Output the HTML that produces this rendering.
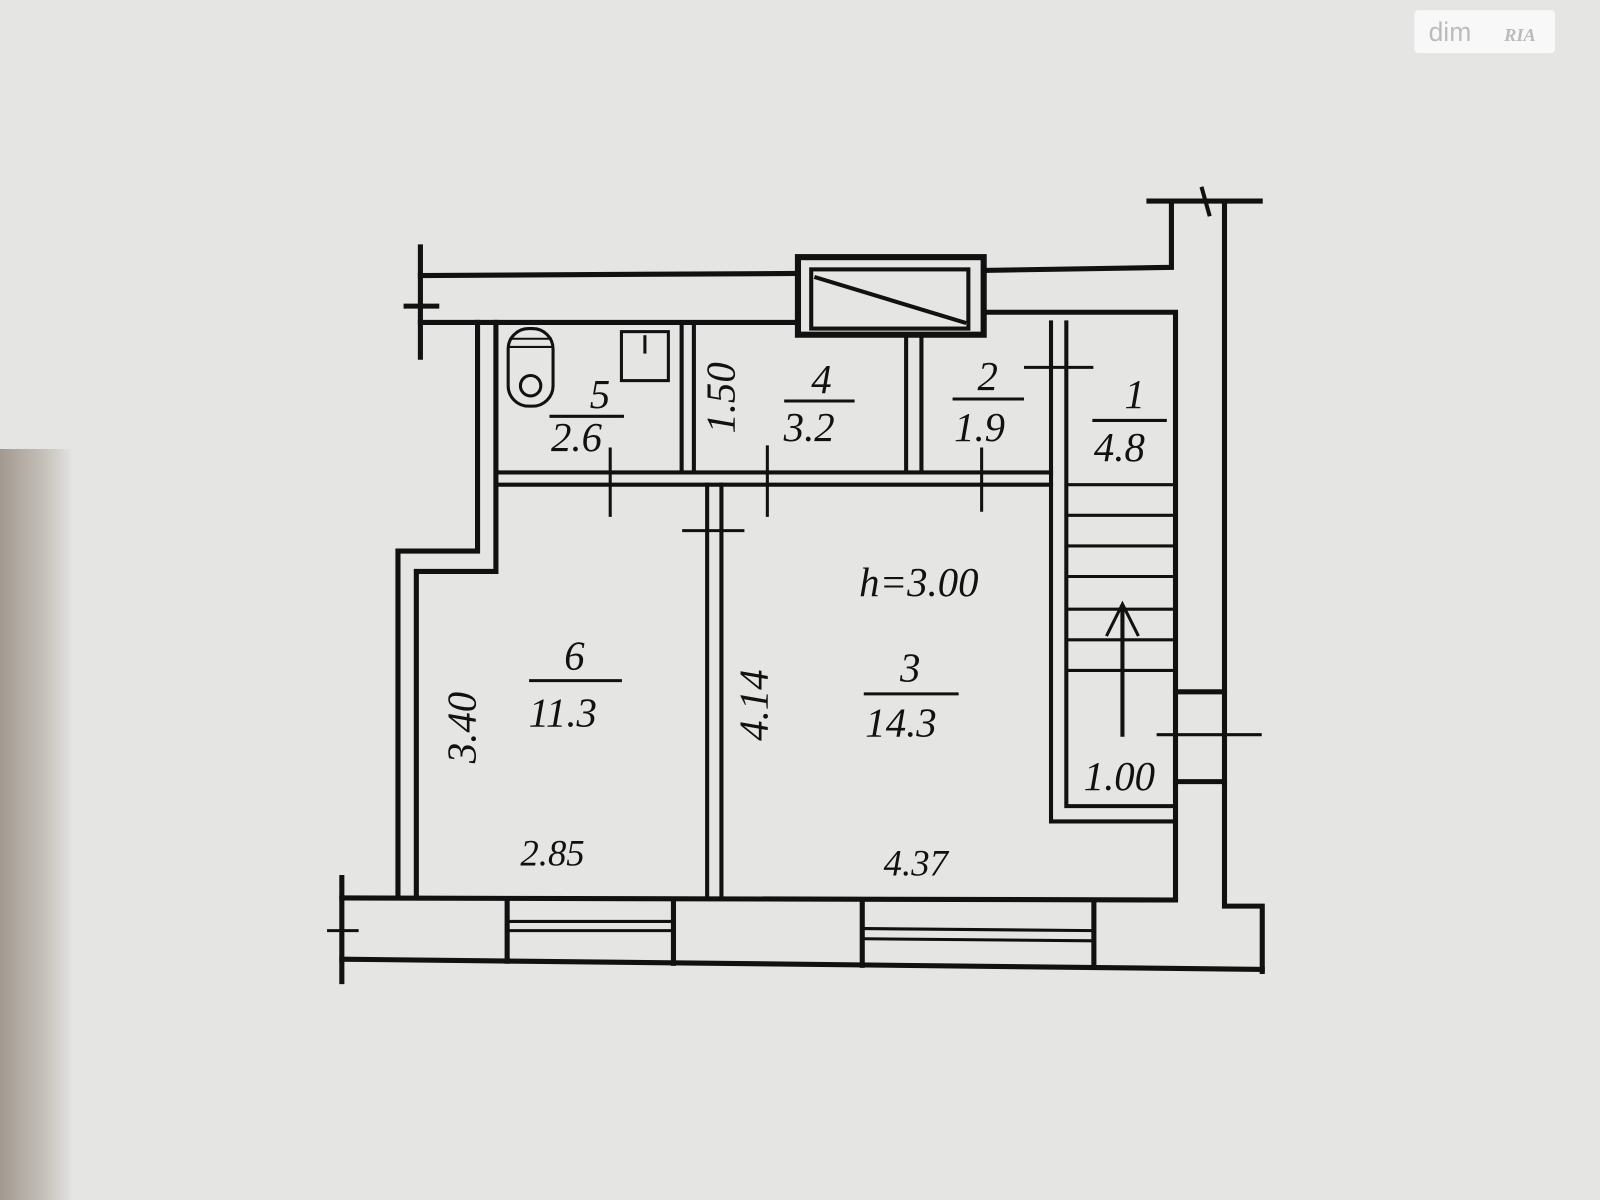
<!DOCTYPE html>
<html><head><meta charset="utf-8"><style>
html,body{margin:0;padding:0;background:#e4e4e2;}
svg{display:block}
text{font-family:"Liberation Serif",serif;font-style:italic;fill:#111;}
</style></head><body>
<svg width="1600" height="1200" viewBox="0 0 1568 1176" preserveAspectRatio="none" xmlns="http://www.w3.org/2000/svg">
<defs><linearGradient id="sh" x1="0" x2="1"><stop offset="0" stop-color="#a29a90"/><stop offset="0.6" stop-color="#c4bfb8"/><stop offset="1" stop-color="#e2e2e0"/></linearGradient></defs>
<rect width="1568" height="1176" fill="#e5e5e3"/>
<rect x="0" y="440" width="70" height="736" fill="url(#sh)"/>
<g stroke="#111" stroke-width="5" fill="none" stroke-linecap="square">
<!-- top wall -->
<line x1="412" y1="242" x2="412" y2="350"/>
<line x1="398" y1="300" x2="428" y2="300"/>
<polyline points="412,270 782,268"/>
<polyline points="412,316 782,316"/>
<rect x="782" y="252" width="182" height="76" stroke-width="6"/>
<rect x="795" y="264" width="154" height="58" stroke-width="4"/>
<line x1="800" y1="272" x2="945" y2="316" stroke-width="4"/>
<polyline points="964,265 1148,262 1148,197"/>
<line x1="1126" y1="197" x2="1235" y2="197"/>
<line x1="1178" y1="185" x2="1185" y2="210" stroke-width="4"/>
<polyline points="964,306 1152,306 1152,880"/>
<polyline points="1200,197 1200,888 1237,888 1237,952"/>
<!-- box on right wall -->
<line x1="1152" y1="678" x2="1200" y2="678"/>
<line x1="1152" y1="766" x2="1200" y2="766"/>
<line x1="1135" y1="720" x2="1235" y2="720" stroke-width="3"/>
<!-- left walls -->
<polyline points="468,316 468,540 390,540 390,880"/>
<polyline points="486,316 486,560 408,560 408,880"/>
<!-- horizontal partition -->
<line x1="486" y1="463" x2="1030" y2="463" stroke-width="4"/>
<line x1="486" y1="475" x2="1030" y2="475" stroke-width="4"/>
<line x1="598" y1="440" x2="598" y2="505" stroke-width="3"/>
<line x1="752" y1="438" x2="752" y2="505" stroke-width="3"/>
<line x1="962" y1="440" x2="962" y2="500" stroke-width="3"/>
<!-- vertical partition -->
<line x1="693" y1="475" x2="693" y2="880" stroke-width="4"/>
<line x1="707" y1="475" x2="707" y2="880" stroke-width="4"/>
<line x1="670" y1="520" x2="728" y2="520" stroke-width="3"/>
<!-- small partitions -->
<line x1="668" y1="316" x2="668" y2="463" stroke-width="4"/>
<line x1="680" y1="316" x2="680" y2="463" stroke-width="4"/>
<line x1="888" y1="330" x2="888" y2="463" stroke-width="4"/>
<line x1="903" y1="330" x2="903" y2="463" stroke-width="4"/>
<!-- stair walls -->
<polyline points="1030,316 1030,805 1150,805" stroke-width="4"/>
<polyline points="1045,316 1045,790 1150,790" stroke-width="4"/>
<line x1="1005" y1="360" x2="1070" y2="360" stroke-width="3"/>
<g stroke-width="3">
<line x1="1048" y1="475" x2="1148" y2="475"/>
<line x1="1048" y1="505" x2="1148" y2="505"/>
<line x1="1048" y1="535" x2="1148" y2="535"/>
<line x1="1048" y1="565" x2="1148" y2="565"/>
<line x1="1048" y1="597" x2="1148" y2="597"/>
<line x1="1048" y1="627" x2="1148" y2="627"/>
<line x1="1048" y1="657" x2="1148" y2="657"/>
</g>
<line x1="1100" y1="720" x2="1100" y2="600" stroke-width="4"/>
<polyline points="1085,622 1100,592 1115,622" stroke-width="3"/>
<!-- bottom wall -->
<line x1="335" y1="860" x2="335" y2="962"/>
<line x1="322" y1="912" x2="350" y2="912" stroke-width="3"/>
<line x1="335" y1="880" x2="1152" y2="882"/>
<line x1="335" y1="940" x2="1237" y2="950"/>
<line x1="497" y1="882" x2="497" y2="942"/>
<line x1="660" y1="882" x2="660" y2="944"/>
<line x1="500" y1="903" x2="657" y2="903" stroke-width="3"/>
<line x1="500" y1="912" x2="657" y2="912" stroke-width="3"/>
<line x1="845" y1="884" x2="845" y2="946"/>
<line x1="1072" y1="886" x2="1072" y2="948"/>
<line x1="848" y1="910" x2="1070" y2="912" stroke-width="3"/>
<line x1="848" y1="920" x2="1070" y2="922" stroke-width="3"/>
<!-- fixtures -->
<rect x="498" y="322" width="44" height="76" rx="20" stroke-width="3"/>
<circle cx="520" cy="378" r="10" stroke-width="3"/>
<line x1="500" y1="332" x2="540" y2="332" stroke-width="2"/>
<line x1="500" y1="340" x2="540" y2="340" stroke-width="2"/>
<rect x="609" y="325" width="46" height="48" stroke-width="3"/>
<line x1="632" y1="330" x2="632" y2="345" stroke-width="3"/>
<!-- fraction bars -->
<line x1="540" y1="408" x2="610" y2="408" stroke-width="3"/>
<line x1="770" y1="393" x2="836" y2="393" stroke-width="3"/>
<line x1="935" y1="391" x2="1002" y2="391" stroke-width="3"/>
<line x1="1072" y1="412" x2="1142" y2="412" stroke-width="3"/>
<line x1="520" y1="667" x2="608" y2="667" stroke-width="3"/>
<line x1="848" y1="680" x2="938" y2="680" stroke-width="3"/>
</g>
<g font-size="40">
<text x="578" y="400">5</text><text x="540" y="442">2.6</text>
<text x="795" y="385">4</text><text x="768" y="432">3.2</text>
<text x="958" y="382">2</text><text x="935" y="432">1.9</text>
<text x="1102" y="400">1</text><text x="1072" y="452">4.8</text>
<text x="553" y="656">6</text><text x="518" y="712">11.3</text>
<text x="882" y="668">3</text><text x="848" y="722">14.3</text>
<text x="842" y="584">h=3.00</text>
<text x="1062" y="774">1.00</text>
<text x="510" y="848" font-size="36">2.85</text>
<text x="866" y="858" font-size="36">4.37</text>
<text transform="translate(720,425) rotate(-90)">1.50</text>
<text transform="translate(466,748) rotate(-90)">3.40</text>
<text transform="translate(752,726) rotate(-90)">4.14</text>
</g>
<rect x="1386" y="10" width="138" height="42" rx="4" fill="#fafafa" opacity="0.9"/>
<text x="1400" y="40" font-size="26" style="font-style:normal;font-family:'Liberation Sans',sans-serif;fill:#bbb">dim</text>
<text x="1474" y="40" font-size="18" style="font-weight:bold;fill:#bbb">RIA</text>
</svg>
</body></html>
